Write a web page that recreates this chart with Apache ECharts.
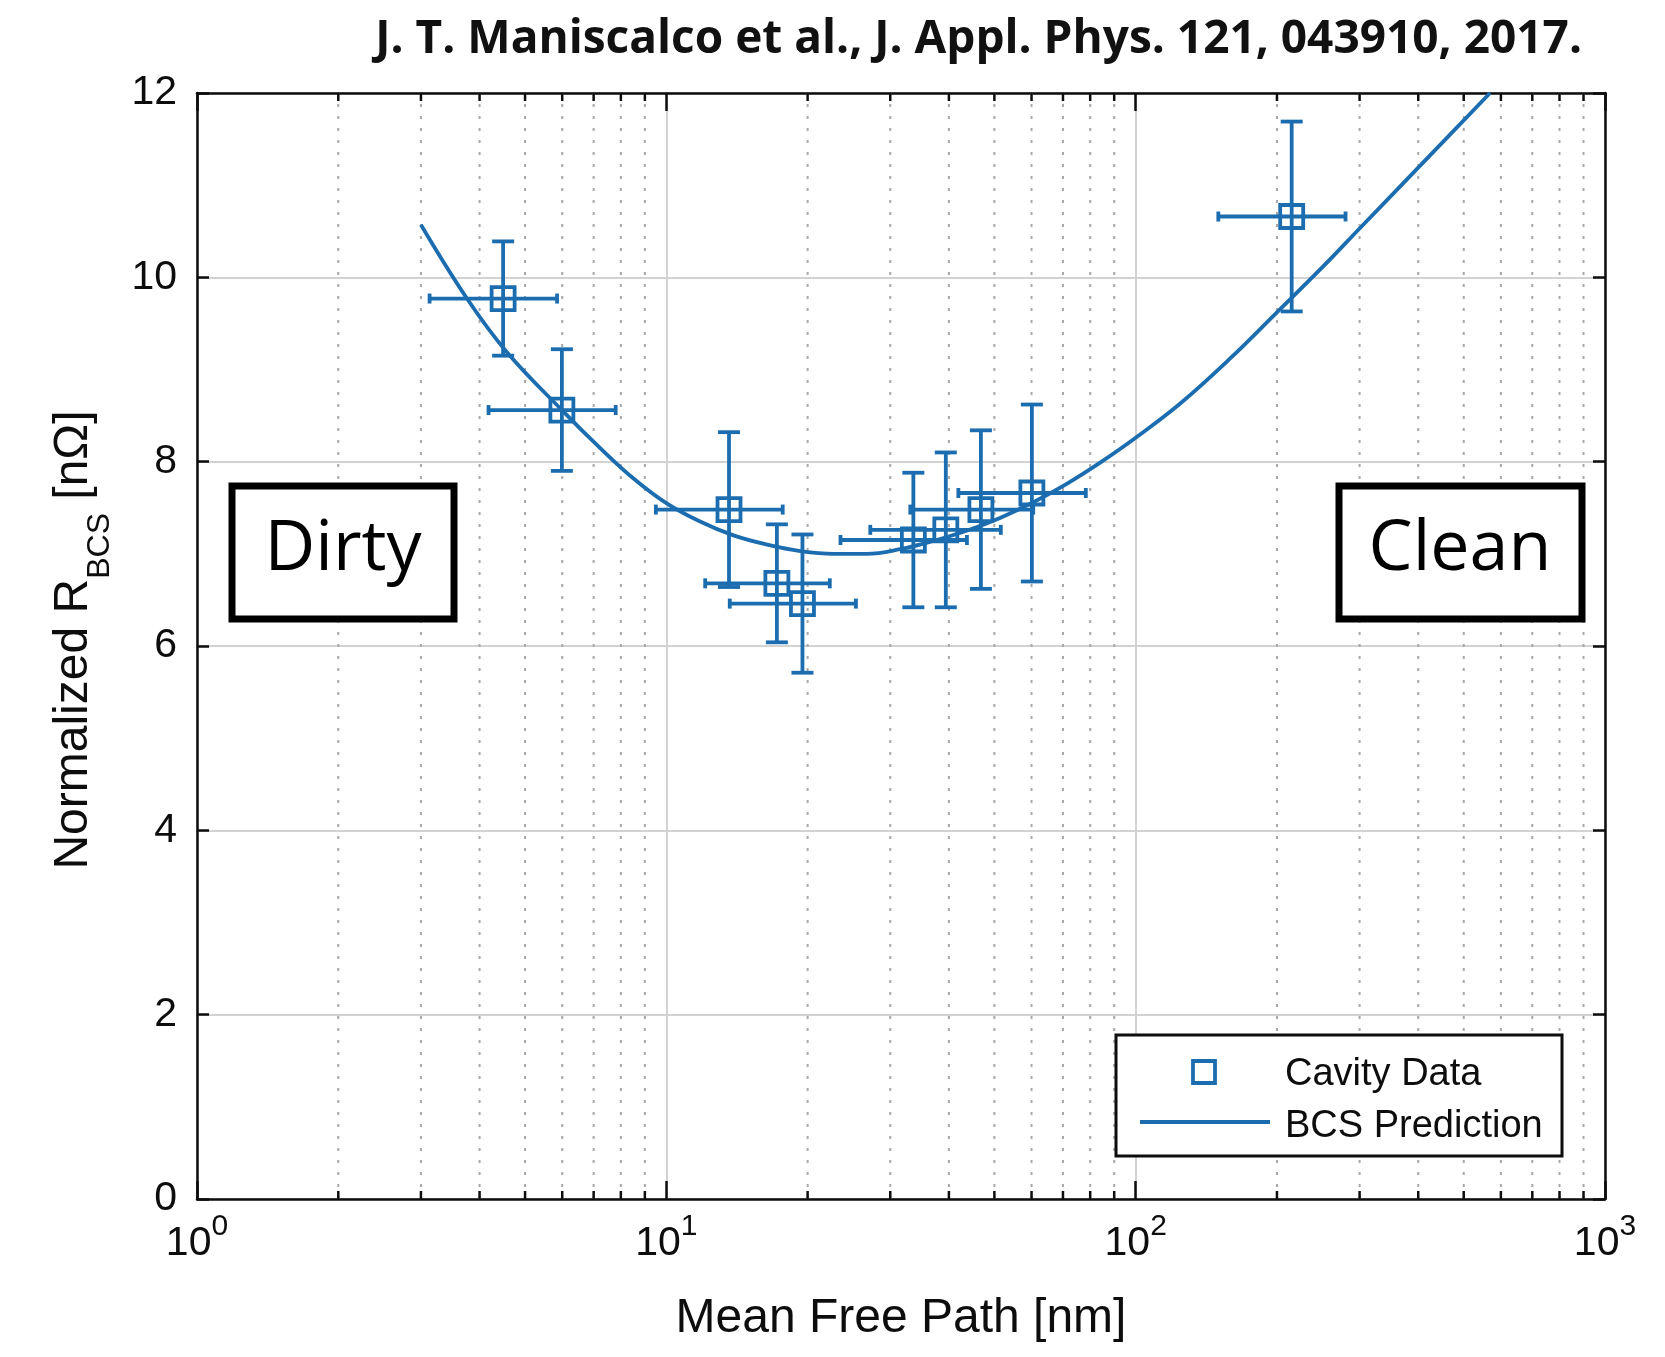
<!DOCTYPE html>
<html>
<head>
<meta charset="utf-8">
<title>Normalized R_BCS vs Mean Free Path</title>
<script src="https://cdn.jsdelivr.net/npm/echarts@6/dist/echarts.min.js"></script>
<style>
  html, body { margin: 0; padding: 0; background: #ffffff; }
  #chart { width: 1665px; height: 1357px; }
</style>
</head>
<body>
<div id="chart"></div>
<script>
// Cavity measurements: mean free path [nm] with symmetric errors, normalized R_BCS [nΩ]
const mfp      = [4.49, 5.99, 13.6, 17.2, 19.5, 33.6, 39.4, 46.8, 60.1, 215];
const mfpErr   = [1.36, 1.81, 4.1, 5.1, 5.85, 10.1, 12.2, 13.7, 18.2, 65];
const rbcs     = [9.77, 8.56, 7.48, 6.68, 6.46, 7.15, 7.26, 7.48, 7.66, 10.66];
const rbcsErr  = [0.62, 0.66, 0.84, 0.64, 0.75, 0.73, 0.84, 0.86, 0.96, 1.03];

// BCS prediction curve
const bcsX = [3.0, 3.76, 4.57, 5.99, 7.22, 8.5, 10.0, 11.8, 13.9, 16.4, 19.3, 22.7, 26.7, 31.5, 37.1, 43.6, 51.4, 60.5, 71.3, 84, 100, 125, 159, 200, 250, 300, 400, 569];
const bcsY = [10.57, 9.77, 9.19, 8.56, 8.15, 7.82, 7.55, 7.35, 7.20, 7.10, 7.03, 7.00, 7.00, 7.05, 7.14, 7.25, 7.39, 7.56, 7.76, 7.99, 8.26, 8.64, 9.12, 9.62, 10.11, 10.53, 11.19, 12.0];

// Axis ticks
const yTicks = [0, 2, 4, 6, 8, 10, 12];
const minorX = [2, 3, 4, 5, 6, 7, 8, 9, 20, 30, 40, 50, 60, 70, 80, 90, 200, 300, 400, 500, 600, 700, 800, 900];

const BLUE = '#1b6db0';
const INK = '#0d0d0d';
const SANS = "'Liberation Sans', Arial, Helvetica, sans-serif";
const HUMANIST = "'Open Sans', 'Noto Sans', sans-serif";
const GRID = { left: 197, top: 93, width: 1408, height: 1106 };

const chart = echarts.init(document.getElementById('chart'), null, { renderer: 'canvas' });

// dotted minor grid lines plus the short inside minor ticks on top and bottom
function renderMinor(params, api) {
  const v = api.value(0);
  const b = api.coord([v, yTicks[0]]);
  const t = api.coord([v, yTicks[yTicks.length - 1]]);
  const tick = { stroke: INK, lineWidth: 2.5 };
  return {
    type: 'group',
    children: [
      { type: 'line', shape: { x1: b[0], y1: b[1], x2: t[0], y2: t[1] },
        style: { stroke: '#a8a8a8', lineWidth: 2, lineDash: [3, 9] } },
      { type: 'line', shape: { x1: b[0], y1: b[1], x2: b[0], y2: b[1] - 8 }, style: tick },
      { type: 'line', shape: { x1: t[0], y1: t[1], x2: t[0], y2: t[1] + 8 }, style: tick }
    ]
  };
}

// horizontal and vertical error bars with caps, hollow square marker
function renderErrorBar(params, api) {
  const x = api.value(0), y = api.value(1), dx = api.value(2), dy = api.value(3);
  const c = api.coord([x, y]);
  const top = api.coord([x, y + dy]);
  const bot = api.coord([x, y - dy]);
  const lft = api.coord([x - dx, y]);
  const rgt = api.coord([x + dx, y]);
  const cap = 11, hcap = 5, half = 11.5;
  const st = { stroke: BLUE, lineWidth: 3.8, fill: null };
  const seg = (x1, y1, x2, y2) => ({ type: 'line', shape: { x1, y1, x2, y2 }, style: st });
  return {
    type: 'group',
    children: [
      seg(top[0], top[1], bot[0], bot[1]),
      seg(top[0] - cap, top[1], top[0] + cap, top[1]),
      seg(bot[0] - cap, bot[1], bot[0] + cap, bot[1]),
      seg(lft[0], lft[1], rgt[0], rgt[1]),
      seg(lft[0], lft[1] - hcap, lft[0], lft[1] + hcap),
      seg(rgt[0], rgt[1] - hcap, rgt[0], rgt[1] + hcap),
      { type: 'rect', shape: { x: c[0] - half, y: c[1] - half, width: 2 * half, height: 2 * half },
        style: { stroke: BLUE, lineWidth: 3.8, fill: 'none' } }
    ]
  };
}

const xLabel = {
  show: true,
  margin: 24,
  color: INK,
  formatter: v => '{b|10}{s|' + Math.round(Math.log10(v)) + '}',
  rich: {
    b: { fontFamily: SANS, fontSize: 41, color: INK, lineHeight: 41, verticalAlign: 'bottom' },
    s: { fontFamily: SANS, fontSize: 30, color: INK, lineHeight: 30, verticalAlign: 'bottom', padding: [0, 0, 22, 0] }
  }
};

const axisLineStyle = { color: INK, width: 2.5 };

const option = {
  backgroundColor: '#ffffff',
  animation: false,
  grid: Object.assign({ outerBoundsMode: 'none', containLabel: false }, GRID),
  xAxis: [
    {
      type: 'log', logBase: 10, min: 1, max: 1000, position: 'bottom',
      name: 'Mean Free Path [nm]', nameLocation: 'middle', nameGap: 96,
      nameTextStyle: { fontFamily: SANS, fontSize: 48, color: INK },
      axisLine: { show: true, onZero: false, lineStyle: axisLineStyle },
      axisTick: { show: true, inside: true, length: 18, lineStyle: axisLineStyle },
      axisLabel: xLabel,
      splitLine: { show: true, lineStyle: { color: '#d2d2d2', width: 2 } },
      minorTick: { show: false }, minorSplitLine: { show: false }
    },
    {
      type: 'log', logBase: 10, min: 1, max: 1000, position: 'top',
      axisLine: { show: true, onZero: false, lineStyle: axisLineStyle },
      axisTick: { show: true, inside: true, length: 18, lineStyle: axisLineStyle },
      axisLabel: { show: false },
      splitLine: { show: false }
    }
  ],
  yAxis: [
    {
      type: 'value', min: 0, max: 12, interval: 2, position: 'left',
      axisLine: { show: true, onZero: false, lineStyle: axisLineStyle },
      axisTick: { show: true, inside: true, length: 12, lineStyle: axisLineStyle },
      axisLabel: { show: true, margin: 20, fontFamily: SANS, fontSize: 41, color: INK },
      splitLine: { show: true, lineStyle: { color: '#d2d2d2', width: 2 } }
    },
    {
      type: 'value', min: 0, max: 12, interval: 2, position: 'right',
      axisLine: { show: true, onZero: false, lineStyle: axisLineStyle },
      axisTick: { show: true, inside: true, length: 12, lineStyle: axisLineStyle },
      axisLabel: { show: false },
      splitLine: { show: false }
    }
  ],
  series: [
    {
      name: 'minor grid',
      type: 'custom',
      xAxisIndex: 0, yAxisIndex: 0,
      renderItem: renderMinor,
      data: minorX.map(v => [v, 0]),
      encode: { x: 0, y: 1 },
      silent: true, z: 1
    },
    {
      name: 'BCS Prediction',
      type: 'line',
      xAxisIndex: 0, yAxisIndex: 0,
      data: bcsX.map((v, i) => [v, bcsY[i]]),
      smooth: 0.4,
      symbol: 'none',
      lineStyle: { color: BLUE, width: 3.8 },
      z: 3
    },
    {
      name: 'Cavity Data',
      type: 'custom',
      xAxisIndex: 0, yAxisIndex: 0,
      renderItem: renderErrorBar,
      data: mfp.map((v, i) => [v, rbcs[i], mfpErr[i], rbcsErr[i]]),
      encode: { x: 0, y: 1 },
      z: 4
    }
  ],
  graphic: [
    // citation
    { type: 'text', x: 1582, y: 40, z: 100,
      style: { text: 'J. T. Maniscalco et al., J. Appl. Phys. 121, 043910, 2017.',
               fontFamily: HUMANIST, fontWeight: 'bold', fontSize: 46,
               fill: '#111', align: 'right', verticalAlign: 'middle' } },
    // y-axis title with subscript
    { type: 'text', x: 74, y: 640, rotation: Math.PI / 2, z: 100,
      style: { text: '{a|Normalized R}{b|BCS}{a| [nΩ]}',
               align: 'center', verticalAlign: 'middle',
               rich: {
                 a: { fontFamily: SANS, fontSize: 48, fill: INK, lineHeight: 48, verticalAlign: 'top' },
                 b: { fontFamily: SANS, fontSize: 32, fill: INK, lineHeight: 32, verticalAlign: 'top', padding: [34, 0, 0, 0] }
               } } },
    // regime boxes
    { type: 'rect', z: 100, shape: { x: 232, y: 486, width: 222, height: 133 },
      style: { fill: '#ffffff', stroke: '#000', lineWidth: 7 } },
    { type: 'text', x: 343, y: 550, z: 101,
      style: { text: 'Dirty', fontFamily: HUMANIST, fontSize: 70,
               fill: '#000', align: 'center', verticalAlign: 'middle' } },
    { type: 'rect', z: 100, shape: { x: 1339, y: 486, width: 243, height: 133 },
      style: { fill: '#ffffff', stroke: '#000', lineWidth: 7 } },
    { type: 'text', x: 1460, y: 550, z: 101,
      style: { text: 'Clean', fontFamily: HUMANIST, fontSize: 70,
               fill: '#000', align: 'center', verticalAlign: 'middle' } },
    // legend
    { type: 'rect', z: 100, shape: { x: 1116, y: 1035, width: 446, height: 121 },
      style: { fill: '#ffffff', stroke: INK, lineWidth: 3 } },
    { type: 'rect', z: 101, shape: { x: 1193, y: 1061, width: 22, height: 22 },
      style: { fill: 'none', stroke: BLUE, lineWidth: 3.8 } },
    { type: 'line', z: 101, shape: { x1: 1140, y1: 1122, x2: 1270, y2: 1122 },
      style: { stroke: BLUE, lineWidth: 3.8 } },
    { type: 'text', x: 1285, y: 1075, z: 101,
      style: { text: 'Cavity Data', fontFamily: SANS, fontSize: 38, fill: INK,
               align: 'left', verticalAlign: 'middle' } },
    { type: 'text', x: 1285, y: 1127, z: 101,
      style: { text: 'BCS Prediction', fontFamily: SANS, fontSize: 38, fill: INK,
               align: 'left', verticalAlign: 'middle' } }
  ]
};

chart.setOption(option);
</script>
</body>
</html>
